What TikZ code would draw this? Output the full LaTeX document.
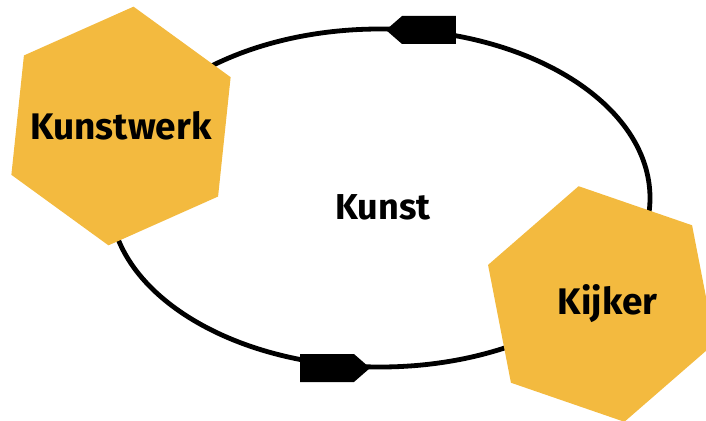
\documentclass[tikz,border=0pt]{standalone}
\usepackage{fontspec}
\setmainfont{Fira Sans}
\usetikzlibrary{shapes.geometric,shapes.symbols}
\definecolor{hexyellow}{HTML}{F3BA3F}

\begin{document}
\begin{tikzpicture}[x=1pt,y=-1pt]

\useasboundingbox (0,0) rectangle (706,420);

% The cycle between the two hexagons
\node (kunst) at (383,207) {\fontsize{36}{36}\selectfont\bfseries Kunst};
\draw[line width=4.8pt] (380,198) ellipse (270 and 169);

% Markers on the cycle
\tikzstyle{every node}=[shape=signal,fill=black,minimum width=70pt,minimum height=28pt,inner sep=0pt,signal pointer angle=82];
\node[signal to=west] (m1) at (429,30) {};
\node[signal to=east] (m2) at (327,368) {};

% Draw the hexagons, text goes in a centre label
\tikzstyle{every node}=[shape=regular polygon,regular polygon sides=6,fill=hexyellow,minimum size=240pt,inner sep=0pt];
\tikzstyle{every label}=[shape=rectangle,fill=none,minimum size=0pt,font=\fontsize{37}{37}\selectfont\bfseries];
\node[shape border rotate=24,label={center:Kunstwerk}] (werk) at (121,126) {};
\node[shape border rotate=41,label={[xshift=6pt]center:Kijker}] (kijker) at (601.5,304) {};

\end{tikzpicture}
\end{document}
